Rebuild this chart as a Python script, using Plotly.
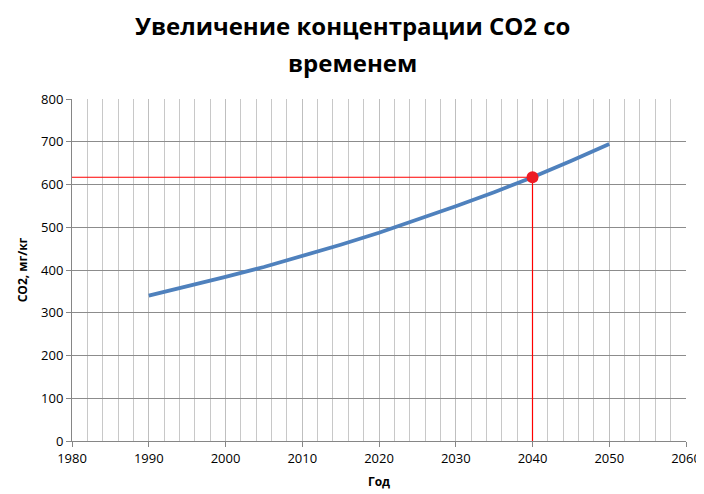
import plotly.graph_objects as go

years = [1990, 1995, 2000, 2005, 2010, 2015, 2020, 2025, 2030, 2035, 2040, 2045, 2050]
co2 = [340, 361, 384, 407, 432, 459, 487, 517, 549, 582, 617, 655, 695]
mark_year = 2040
mark_value = 617
x_start = 1980

title_lines = ["Увеличение концентрации CO2 со", "временем"]
x_title = "Год"
y_title = "CO2, мг/кг"

W, H = 696, 486  # page body adds an 8px margin

fig = go.Figure()
fig.add_trace(go.Scatter(x=years, y=co2, mode="lines",
                         line=dict(color="#4F81BD", width=3.8), showlegend=False))
fig.add_trace(go.Scatter(x=[x_start, mark_year, mark_year], y=[mark_value, mark_value, 0],
                         mode="lines", line=dict(color="#FF0000", width=1.2), showlegend=False))
fig.add_trace(go.Scatter(x=[mark_year], y=[mark_value], mode="markers",
                         marker=dict(color="#EE1C25", size=12), showlegend=False))

for txt, yc in zip(title_lines, [17, 54]):
    fig.add_annotation(text=txt, xref="paper", x=0.5 + (352 - 8 - (64 + 614 / 2)) / 614,
                       yref="paper", y=1 + (91 - yc) / (486 - 91 - 53),
                       xanchor="center", yanchor="middle", showarrow=False,
                       font=dict(family="Open Sans", size=24, color="black", weight="bold"))

fig.update_layout(
    width=W, height=H,
    margin=dict(l=64, r=18, t=91, b=53, autoexpand=False),
    paper_bgcolor="white", plot_bgcolor="white",
    font=dict(family="Open Sans", size=13, color="black"),
    xaxis=dict(range=[1980, 2060], dtick=10, tick0=1980, automargin=False,
               showgrid=True, gridcolor="#BFBFBF", gridwidth=1,
               minor=dict(dtick=2, showgrid=True, gridcolor="#C8C8C8", gridwidth=1),
               showline=True, linecolor="#868686", linewidth=1,
               ticks="outside", ticklen=5, tickcolor="#868686",
               ticklabeloverflow="allow",
               zeroline=False,
               title=dict(text=x_title, font=dict(size=12, weight="bold"), standoff=12),
               tickfont=dict(size=13)),
    yaxis=dict(range=[0, 800], dtick=100, automargin=False,
               showgrid=True, gridcolor="#8C8C8C", gridwidth=1,
               showline=True, linecolor="#868686", linewidth=1,
               ticks="outside", ticklen=5, tickcolor="#868686",
               zeroline=False,
               title=dict(text=y_title, font=dict(size=12, weight="bold"), standoff=10),
               tickfont=dict(size=13)),
)

fig.write_html("out.html")
